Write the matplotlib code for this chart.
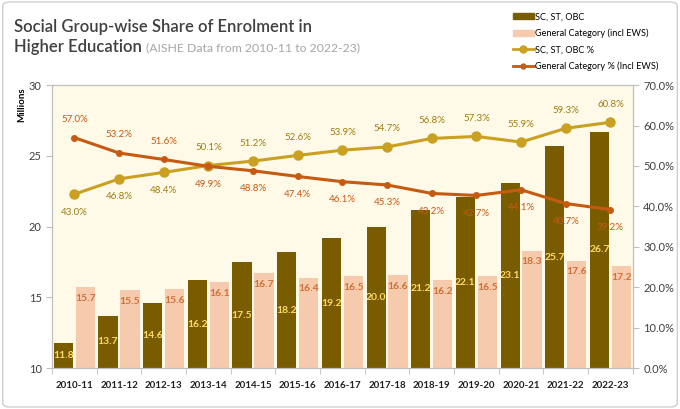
import numpy as np
import matplotlib.pyplot as plt
from matplotlib.patches import FancyBboxPatch, Patch
from matplotlib.lines import Line2D
from matplotlib.ticker import FuncFormatter, FixedLocator

plt.rcParams['font.family'] = ['Lato', 'DejaVu Sans']

years = ["2010-11", "2011-12", "2012-13", "2013-14", "2014-15", "2015-16", "2016-17",
         "2017-18", "2018-19", "2019-20", "2020-21", "2021-22", "2022-23"]
reserved = [11.8, 13.7, 14.6, 16.2, 17.5, 18.2, 19.2, 20.0, 21.2, 22.1, 23.1, 25.7, 26.7]
general = [15.7, 15.5, 15.6, 16.1, 16.7, 16.4, 16.5, 16.6, 16.2, 16.5, 18.3, 17.6, 17.2]
reserved_pct = [43.0, 46.8, 48.4, 50.1, 51.2, 52.6, 53.9, 54.7, 56.8, 57.3, 55.9, 59.3, 60.8]
general_pct = [57.0, 53.2, 51.6, 49.9, 48.8, 47.4, 46.1, 45.3, 43.2, 42.7, 44.1, 40.7, 39.2]

dark = "#7a5c00"
light = "#f6cbad"
gold = "#c9a020"
rust = "#c55a11"

fig = plt.figure(figsize=(6.8, 4.09), dpi=100)
fig.patches.append(FancyBboxPatch((0.004, 0.005), 0.992, 0.99, boxstyle="round,pad=0,rounding_size=0.01",
                                  transform=fig.transFigure, fc="white", ec="#d0d0d0", lw=1, zorder=-1))
ax = fig.add_axes([0.0765, 0.100, 0.854, 0.692])
ax.set_facecolor("#fff9e8")
x = np.arange(len(years))
w = 0.43
ax.bar(x - 0.245, np.array(reserved) - 10, w, bottom=10, color=dark, zorder=2)
ax.bar(x + 0.245, np.array(general) - 10, w, bottom=10, color=light, zorder=2)

for i in range(len(x)):
    ax.text(x[i] - 0.245, (10 + reserved[i]) / 2, f"{reserved[i]:.1f}", ha="center", va="center",
            color="#ffd966", fontsize=7.5, fontweight="bold", zorder=5)
    ax.text(x[i] + 0.245, general[i] - 0.8, f"{general[i]:.1f}", ha="center", va="center",
            color="#d0703a", fontsize=7.5, fontweight="bold", zorder=5)

ax.set_xlim(-0.5, len(years) - 0.5)
ax.set_ylim(10, 30)
ax.set_yticks([10, 15, 20, 25, 30])
ax.set_xticks(x)
ax.set_xticklabels(years, fontsize=7, fontweight="bold", color="#202020")
ax.tick_params(axis="x", length=0, pad=9)
ax.xaxis.set_minor_locator(FixedLocator(np.arange(-0.5, len(years), 1)))
ax.tick_params(axis="x", which="minor", length=4, color="#bfbfbf")
ax.tick_params(axis="y", labelsize=8, labelcolor="#404040", color="#bfbfbf", length=4)
ax.set_ylabel("Millions", fontsize=7, fontweight="bold")
ax.yaxis.set_label_coords(-0.045, 0.93)
for s in ax.spines.values():
    s.set_color("#bfbfbf")

ax2 = ax.twinx()
ax2.set_ylim(0, 70)
ax2.set_yticks(np.arange(0, 71, 10))
ax2.yaxis.set_major_formatter(FuncFormatter(lambda v, p: f"{v:.1f}%"))
ax2.tick_params(axis="y", labelsize=8, labelcolor="#404040", color="#bfbfbf", length=4)
for s in ax2.spines.values():
    s.set_color("#bfbfbf")
ax2.plot(x, reserved_pct, color=gold, lw=2.2, marker="o", ms=6.5, zorder=4)
ax2.plot(x, general_pct, color=rust, lw=2.2, marker="o", ms=4, zorder=4)
for i in range(len(x)):
    up = 1 if i >= 3 else -1
    ax2.annotate(f"{reserved_pct[i]:.1f}%", (x[i], reserved_pct[i]), xytext=(0, 13 * up),
                 textcoords="offset points", ha="center", va="center", fontsize=7, color="#9c7d12")
    ax2.annotate(f"{general_pct[i]:.1f}%", (x[i], general_pct[i]), xytext=(0, -13 * up),
                 textcoords="offset points", ha="center", va="center", fontsize=7, color=rust)

# title: scale font so the first line spans ~297 px like the reference
r = fig.canvas.get_renderer()
t1 = fig.text(14 / 680, 0.935, "Social Group-wise Share of Enrolment in", fontsize=14,
              fontweight="semibold", color="#404040", va="center")
scale = 297 / t1.get_window_extent(r).width
t1.set_fontsize(14 * scale)
t2 = fig.text(14 / 680, 0.885, "Higher Education", fontsize=14 * scale,
              fontweight="semibold", color="#404040", va="center")
end = t2.get_window_extent(r).x1
t3 = fig.text((end + 4) / 680, 0.882, "(AISHE Data from 2010-11 to 2022-23)", fontsize=9,
              color="#a6a6a6", va="center")
t3.set_fontsize(9 * (360 - end - 4) / t3.get_window_extent(r).width)

handles = [Patch(color=dark), Patch(color=light),
           Line2D([], [], color=gold, lw=2, marker="o", ms=5),
           Line2D([], [], color=rust, lw=2, marker="o", ms=3.5)]
labels = ["SC, ST, OBC", "General Category (incl EWS)", "SC, ST, OBC %", "General Category % (Incl EWS)"]
fig.legend(handles, labels, loc="upper left", bbox_to_anchor=(0.742, 0.99), frameon=False,
           fontsize=6.6, handlelength=2.3, handleheight=0.6, handletextpad=0.1, labelspacing=0.8)

fig.savefig("out.png", dpi=100)
